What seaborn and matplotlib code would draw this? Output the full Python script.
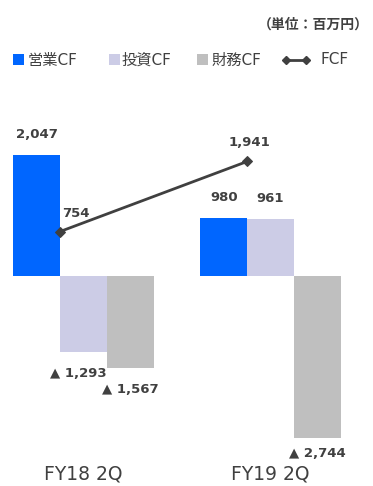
import numpy as np
import pandas as pd
import matplotlib
matplotlib.use('Agg')
import matplotlib.pyplot as plt
from matplotlib.lines import Line2D
from matplotlib.patches import Rectangle
import seaborn as sns

sns.set_theme(style='white')
plt.rcParams['font.family'] = ['DejaVu Sans', 'Noto Sans CJK JP']

# data
periods = ['FY18 2Q', 'FY19 2Q']
cf_types = ['営業CF', '投資CF', '財務CF']
operating_cf = [2047, 980]
investing_cf = [-1293, 961]
financing_cf = [-1567, -2744]
fcf = [754, 1941]
unit_label = '（単位：百万円）'

# styles
colors = ['#0066FF', '#CCCCE6', '#BFBFBF']
text_col = '#404040'

df = pd.DataFrame({
    'period': periods * 3,
    'type': np.repeat(cf_types, len(periods)),
    'value': operating_cf + investing_cf + financing_cf,
})

W, H = 373, 486
def fx(px):
    return px / W
def fy(py):
    return 1 - py / H

fig = plt.figure(figsize=(W / 100, H / 100), dpi=100)
ax = fig.add_axes([0, fy(460), 1, (460 - 100) / H])

sns.barplot(data=df, x='period', y='value', hue='type', palette=colors,
            width=0.75, saturation=1, linewidth=0, legend=False, ax=ax)

# FCF line between the first two bars of each group
fcf_x = np.arange(len(periods)) - 0.125
sns.lineplot(x=fcf_x, y=fcf, color=text_col, lw=2, marker='D', markersize=5,
             markeredgecolor=text_col, ax=ax)

# axis limits (px per unit ~0.059, zero at y=276)
scale = 0.059
ax.set_xlim(-83.5 / 187, (W - 83.5) / 187)
ax.set_ylim(-(460 - 276) / scale, (276 - 100) / scale)
ax.set_yticks([])
ax.set_xlabel('')
ax.set_ylabel('')
ax.tick_params(axis='x', length=0, labelsize=13.5, colors=text_col, pad=3.5)
sns.despine(ax=ax, left=True, bottom=True)

# bar value labels
nudge = {(0, 1): -5.5}
for i, cont in enumerate(ax.containers):
    for j, bar in enumerate(cont):
        v = bar.get_height()
        xc = bar.get_x() + bar.get_width() / 2
        if v >= 0:
            txt, dy = f'{int(round(v)):,}', 21
        else:
            txt = '▲ ' + f'{int(round(abs(v))):,}'
            dy = -16 if v < -2500 else -21
        ax.annotate(txt, (xc, v), xytext=(nudge.get((j, i), 0), dy),
                    textcoords='offset pixels', ha='center', va='center',
                    fontsize=9.5, fontweight='bold', color=text_col)

# FCF labels
ax.annotate(f'{fcf[0]:,}', (fcf_x[0], fcf[0]), xytext=(2, 18),
            textcoords='offset pixels', ha='left', va='center',
            fontsize=9.5, fontweight='bold', color=text_col)
ax.annotate(f'{fcf[1]:,}', (fcf_x[1], fcf[1]), xytext=(2, 19),
            textcoords='offset pixels', ha='center', va='center',
            fontsize=9.5, fontweight='bold', color=text_col)

# legend drawn by hand
sq_x = [13, 109, 197]
tx_x = [28, 122, 212]
for c, name, sx, tx in zip(colors, cf_types, sq_x, tx_x):
    fig.add_artist(Rectangle((fx(sx), fy(65)), 11 / W, 11 / H,
                             transform=fig.transFigure, color=c, lw=0))
    fig.text(fx(tx), fy(60), name, ha='left', va='center', fontsize=11, color=text_col)
fig.add_artist(Line2D([fx(286), fx(306)], [fy(60), fy(60)], transform=fig.transFigure,
                      color=text_col, lw=2, marker='D', markersize=4.5))
fig.text(fx(321), fy(60), 'FCF', ha='left', va='center', fontsize=11, color=text_col)

fig.text(fx(369), fy(25), unit_label, ha='right', va='center', fontsize=10,
         fontweight='bold', color=text_col)

fig.savefig('out.png', dpi=100, facecolor='white')
